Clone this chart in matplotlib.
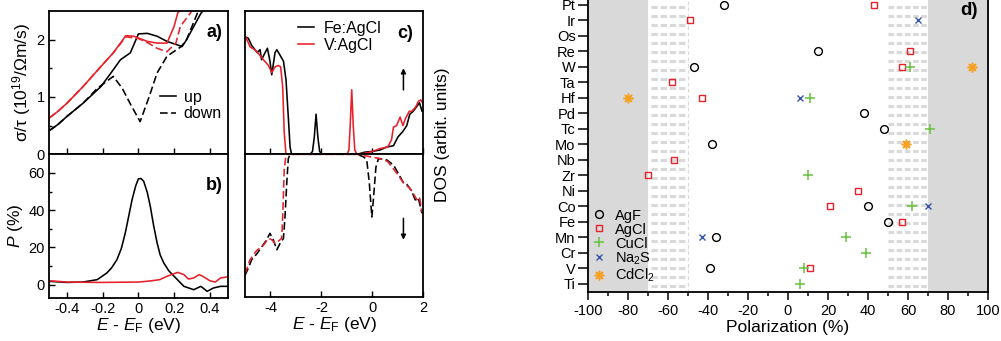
import matplotlib
matplotlib.use("Agg")
import matplotlib.pyplot as plt
import numpy as np
from matplotlib.lines import Line2D

plt.rcParams['font.family'] = ['Liberation Sans', 'DejaVu Sans']
plt.rcParams['font.size'] = 10.5
plt.rcParams['axes.unicode_minus'] = False
plt.rcParams['mathtext.fontset'] = 'custom'
plt.rcParams['mathtext.rm'] = 'Liberation Sans'
plt.rcParams['mathtext.it'] = 'Liberation Sans:italic'
plt.rcParams['mathtext.bf'] = 'Liberation Sans:bold'
plt.rcParams['lines.scale_dashes'] = False

BLACK = '#000000'
RED = '#e8202a'
GREEN = '#66c23f'
BLUE = '#3a55a8'
ORANGE = '#f5a020'
GRAY = '#d9d9d9'
LABEL_FS = 12.5

# ---------------- panel a: sigma/tau ----------------
a_fe_up_E = [-0.5, -0.45, -0.40, -0.31, -0.21, -0.16, -0.10, -0.045, -0.02, 0.0, 0.05, 0.105, 0.16, 0.245, 0.27, 0.35, 0.375]
a_fe_up_v = [0.41, 0.52, 0.66, 0.89, 1.18, 1.39, 1.65, 1.77, 1.95, 2.10, 2.11, 2.06, 1.97, 1.88, 2.0, 2.46, 2.55]
a_fe_dn_E = [-0.5, -0.45, -0.40, -0.31, -0.23, -0.14, -0.09, -0.04, 0.01, 0.06, 0.105, 0.16, 0.24, 0.27, 0.33, 0.36]
a_fe_dn_v = [0.41, 0.52, 0.66, 0.89, 1.15, 1.36, 1.15, 0.85, 0.57, 1.0, 1.42, 1.71, 1.88, 2.0, 2.46, 2.55]
a_v_up_E = [-0.5, -0.45, -0.40, -0.31, -0.21, -0.14, -0.07, -0.026, 0.05, 0.105, 0.16, 0.2, 0.22, 0.24]
a_v_up_v = [0.63, 0.75, 0.89, 1.18, 1.53, 1.77, 2.07, 2.06, 1.97, 1.94, 1.94, 2.23, 2.46, 2.55]
a_v_dn_E = [-0.5, -0.45, -0.40, -0.31, -0.21, -0.14, -0.07, 0.0, 0.05, 0.105, 0.16, 0.21, 0.235, 0.29, 0.31]
a_v_dn_v = [0.63, 0.75, 0.89, 1.18, 1.53, 1.77, 2.05, 2.02, 1.95, 1.85, 1.79, 1.94, 2.23, 2.46, 2.55]

# ---------------- panel b: polarization P ----------------
b_fe_E = [-0.5, -0.40, -0.31, -0.23, -0.176, -0.15, -0.12, -0.095, -0.073, -0.035, -0.015, 0.0, 0.015, 0.03, 0.05, 0.067, 0.085,
          0.105, 0.122, 0.142, 0.17, 0.2, 0.255, 0.31, 0.35, 0.385, 0.42, 0.46, 0.5]
b_fe_P = [1.8, 1.2, 1.4, 2.7, 6.3, 9.0, 13.4, 19.5, 27.8, 45.7, 53.0, 56.8, 57.0, 55.5, 49.5, 42.0, 32.0,
          22.4, 16.0, 11.7, 7.5, 4.5, -0.9, -2.7, -0.9, -3.6, -1.8, -0.9, -0.9]
b_v_E = [-0.5, -0.40, -0.22, 0.0, 0.067, 0.12, 0.16, 0.22, 0.255, 0.28, 0.31, 0.34, 0.36, 0.40, 0.43, 0.46, 0.5]
b_v_P = [2.1, 1.4, 1.2, 1.4, 2.0, 2.7, 4.5, 6.6, 5.4, 3.0, 3.6, 5.4, 4.5, 2.1, 1.4, 3.6, 4.2]

# ---------------- panel c: DOS ----------------
c_fe_up_E = [-5.0, -4.87, -4.74, -4.61, -4.52, -4.41, -4.35, -4.21, -4.12, -4.02, -3.95, -3.82, -3.75, -3.62, -3.49, -3.39, -3.30, -3.23, -3.17,
             -2.45, -2.35, -2.28, -2.21, -2.14, -2.07, -1.97, -0.6, -0.3, 0.0, 0.3, 0.55, 0.83, 1.0, 1.2, 1.35, 1.47, 1.6, 1.73, 1.85, 1.95, 2.0]
c_fe_up_v = [0.82, 0.81, 0.76, 0.73, 0.71, 0.73, 0.66, 0.71, 0.74, 0.65, 0.555, 0.71, 0.73, 0.69, 0.65, 0.52, 0.26, 0.05, 0.0,
             0.0, 0.02, 0.12, 0.28, 0.12, 0.02, 0.0, 0.0, 0.015, 0.02, 0.03, 0.05, 0.06, 0.12, 0.16, 0.20, 0.28, 0.30, 0.33, 0.36, 0.30, 0.31]
c_v_up_E = [-5.0, -4.8, -4.61, -4.41, -4.28, -4.08, -3.95, -3.82, -3.69, -3.6, -3.52, -3.46, -3.39,
            -1.0, -0.92, -0.87, -0.81, -0.75, -0.69, -0.6, -0.2, 0.0, 0.3, 0.6, 0.75, 0.83, 0.95, 1.09, 1.2, 1.3, 1.45, 1.55, 1.7, 1.81, 1.9, 2.0]
c_v_up_v = [0.83, 0.75, 0.73, 0.69, 0.66, 0.62, 0.57, 0.61, 0.62, 0.61, 0.47, 0.15, 0.0,
            0.0, 0.03, 0.2, 0.45, 0.2, 0.03, 0.0, 0.01, 0.02, 0.04, 0.05, 0.10, 0.19, 0.20, 0.26, 0.20, 0.25, 0.30, 0.30, 0.33, 0.37, 0.38, 0.35]
c_fe_dn_E = [-5.0, -4.87, -4.74, -4.54, -4.34, -4.15, -4.02, -3.89, -3.75, -3.62, -3.49, -3.43, -3.36, -3.30, -3.23,
             -0.61, -0.35, -0.22, -0.12, -0.02, 0.04, 0.14, 0.24, 0.57, 0.83, 1.09, 1.22, 1.35, 1.55, 1.68, 1.81, 1.94, 2.0]
c_fe_dn_v = [-0.85, -0.80, -0.74, -0.70, -0.65, -0.60, -0.555, -0.60, -0.67, -0.625, -0.59, -0.44, -0.20, -0.03, 0.0,
             0.0, -0.017, -0.04, -0.20, -0.44, -0.32, -0.09, -0.03, -0.04, -0.075, -0.157, -0.20, -0.21, -0.26, -0.32, -0.31, -0.41, -0.39]
c_v_dn_E = [-5.0, -4.8, -4.54, -4.28, -4.08, -3.95, -3.82, -3.69, -3.56, -3.52, -3.46, -3.39,
            -0.6, -0.3, 0.0, 0.3, 0.6, 0.96, 1.22, 1.48, 1.62, 1.75, 1.85, 1.94, 2.0]
c_v_dn_v = [-0.84, -0.74, -0.675, -0.64, -0.59, -0.60, -0.625, -0.61, -0.59, -0.44, -0.11, 0.0,
            0.0, -0.01, -0.02, -0.03, -0.05, -0.133, -0.20, -0.24, -0.28, -0.32, -0.30, -0.40, -0.39]

# ---------------- panel d: polarization by element ----------------
elements = ['Ti', 'V', 'Cr', 'Mn', 'Fe', 'Co', 'Ni', 'Zr', 'Nb', 'Mo', 'Tc', 'Pd', 'Hf', 'Ta', 'W', 'Re', 'Os', 'Ir', 'Pt']
agf_el = ['Pt', 'Re', 'W', 'Pd', 'Tc', 'Mo', 'Co', 'Fe', 'Mn', 'V']
agf_p = [-32, 15, -47, 38, 48, -38, 40, 50, -36, -39]
agcl_el = ['Pt', 'Ir', 'Re', 'W', 'Ta', 'Hf', 'Nb', 'Zr', 'Ni', 'Co', 'Fe', 'V']
agcl_p = [43, -49, 61, 57, -58, -43, -57, -70, 35, 21, 57, 11]
cucl_el = ['W', 'Hf', 'Tc', 'Zr', 'Co', 'Mn', 'Cr', 'V', 'Ti']
cucl_p = [61, 11, 71, 10, 62, 29, 39, 8, 6]
na2s_el = ['Ir', 'Hf', 'Mn', 'Co']
na2s_p = [65, 6, -43, 70]
cdcl2_el = ['W', 'Hf', 'Mo']
cdcl2_p = [92, -80, 59]

W, H = 1001, 341
fig = plt.figure(figsize=(W / 100, H / 100), dpi=100)


def box(x0, y0, x1, y1):
    return [x0 / W, 1 - y1 / H, (x1 - x0) / W, (y1 - y0) / H]


lw = 1.15
dash = (0, (5.5, 2.5))

# panel a
ax_a = fig.add_axes(box(49, 11, 227.7, 154.3))
ax_a.plot(a_fe_up_E, a_fe_up_v, color=BLACK, lw=lw)
ax_a.plot(a_fe_dn_E, a_fe_dn_v, color=BLACK, lw=lw, ls=dash)
ax_a.plot(a_v_up_E, a_v_up_v, color=RED, lw=lw)
ax_a.plot(a_v_dn_E, a_v_dn_v, color=RED, lw=lw, ls=dash)
ax_a.set_xlim(-0.5, 0.5)
ax_a.set_ylim(0, 2.5)
ax_a.set_xticks([-0.4, -0.2, 0, 0.2, 0.4])
ax_a.set_xticklabels([])
ax_a.set_yticks([0, 1, 2])
ax_a.set_yticks([0.5, 1.5], minor=True)
ax_a.set_ylabel(r'σ/τ (10$^{19}$/Ωm/s)', fontsize=LABEL_FS)
ax_a.yaxis.set_label_coords(-0.09, 0.5)
ax_a.legend([Line2D([], [], color=BLACK, lw=lw), Line2D([], [], color=BLACK, lw=lw, ls=dash)],
            ['up', 'down'], loc='upper left', bbox_to_anchor=(0.62, 0.45), frameon=False, fontsize=11.5,
            handlelength=1.0, handletextpad=0.5, labelspacing=0.1, borderpad=0, borderaxespad=0)
ax_a.text(0.97, 0.85, 'a)', transform=ax_a.transAxes, ha='right', va='center', fontsize=13, fontweight='bold')

# panel b
ax_b = fig.add_axes(box(49, 154.3, 227.7, 297.7))
ax_b.plot(b_fe_E, b_fe_P, color=BLACK, lw=lw)
ax_b.plot(b_v_E, b_v_P, color=RED, lw=lw)
ax_b.set_xlim(-0.5, 0.5)
ax_b.set_ylim(-7, 70)
ax_b.set_xticks([-0.4, -0.2, 0, 0.2, 0.4])
ax_b.set_xticklabels(['-0.4', '-0.2', '0', '0.2', '0.4'])
ax_b.set_yticks([0, 20, 40, 60])
ax_b.set_yticks([10, 30, 50], minor=True)
ax_b.set_ylabel(r'$P$ (%)', fontsize=LABEL_FS)
ax_b.yaxis.set_label_coords(-0.135, 0.5)
ax_b.set_xlabel(r'$E$ - $E_{\rm F}$ (eV)', fontsize=LABEL_FS, labelpad=0)
ax_b.text(0.97, 0.78, 'b)', transform=ax_b.transAxes, ha='right', va='center', fontsize=13, fontweight='bold')

# panel c
ax_c1 = fig.add_axes(box(245, 11, 423.3, 154.3))
ax_c1.plot(c_fe_up_E, c_fe_up_v, color=BLACK, lw=lw, label='Fe:AgCl')
ax_c1.plot(c_v_up_E, c_v_up_v, color=RED, lw=lw, label='V:AgCl')
ax_c1.set_xlim(-5, 2)
ax_c1.set_ylim(0, 1)
ax_c1.set_xticks([-4, -2, 0, 2])
ax_c1.set_xticklabels([])
ax_c1.set_yticks([])
ax_c1.legend(loc='upper left', bbox_to_anchor=(0.30, 0.93), frameon=False, fontsize=11.5, handlelength=1.0,
             handletextpad=0.6, labelspacing=0.1, borderpad=0, borderaxespad=0)
ax_c1.text(0.945, 0.84, 'c)', transform=ax_c1.transAxes, ha='right', va='center', fontsize=13, fontweight='bold')
ax_c1.annotate('', xy=(1.22, 0.62), xytext=(1.22, 0.43),
               arrowprops=dict(arrowstyle='-|>', color=BLACK, lw=1.1, mutation_scale=7))

ax_c2 = fig.add_axes(box(245, 154.3, 423.3, 296.7))
ax_c2.plot(c_fe_dn_E, c_fe_dn_v, color=BLACK, lw=lw, ls=dash)
ax_c2.plot(c_v_dn_E, c_v_dn_v, color=RED, lw=lw, ls=dash)
ax_c2.set_xlim(-5, 2)
ax_c2.set_ylim(-1, 0)
ax_c2.set_xticks([-4, -2, 0, 2])
ax_c2.set_xticklabels(['-4', '-2', '0', '2'])
ax_c2.set_yticks([])
ax_c2.set_xlabel(r'$E$ - $E_{\rm F}$ (eV)', fontsize=LABEL_FS, labelpad=0)
ax_c2.annotate('', xy=(1.22, -0.62), xytext=(1.22, -0.43),
               arrowprops=dict(arrowstyle='-|>', color=BLACK, lw=1.1, mutation_scale=7))

fig.text(443 / W, 1 - 135 / H, 'DOS (arbit. units)', rotation=90, ha='center', va='center', fontsize=LABEL_FS)

for ax in (ax_a, ax_b, ax_c1, ax_c2):
    ax.tick_params(which='both', direction='in', top=False, right=False, width=1.0)
    ax.tick_params(which='major', length=4.5, pad=3)
    ax.tick_params(which='minor', length=2.5)
    for s in ax.spines.values():
        s.set_linewidth(1.3)

# panel d
ax_d = fig.add_axes(box(588, -2.75, 988, 291.7))
idx = {e: i for i, e in enumerate(elements)}
ax_d.set_xlim(-100, 100)
ax_d.set_ylim(-0.5, len(elements) - 0.5)
ax_d.axvspan(-100, -70, color=GRAY, lw=0, zorder=0)
ax_d.axvspan(70, 100, color=GRAY, lw=0, zorder=0)
ys = np.arange(0.019, 1.0, 9 / 294.45)
tr = ax_d.get_xaxis_transform()
ax_d.hlines(ys, -68.6, -50, transform=tr, colors=GRAY, lw=2.2, linestyles=[(0, (4.6, 2.0))], zorder=0)
ax_d.hlines(ys, 50.2, 70, transform=tr, colors=GRAY, lw=2.2, linestyles=[(0, (4.0, 1.9))], zorder=0)
ax_d.axvline(-50, color=GRAY, lw=0.8, ls=(0, (2.5, 2.0)), zorder=0)

ax_d.plot(agf_p, [idx[e] for e in agf_el], ls='none', marker='o', ms=5.6, mfc='none', mec=BLACK, mew=1.0, label='AgF')
ax_d.plot(agcl_p, [idx[e] for e in agcl_el], ls='none', marker='s', ms=5.0, mfc='none', mec=RED, mew=1.0, label='AgCl')
ax_d.plot(cucl_p, [idx[e] for e in cucl_el], ls='none', marker='+', ms=7.0, mec=GREEN, mew=1.1, label='CuCl')
ax_d.plot(na2s_p, [idx[e] for e in na2s_el], ls='none', marker='x', ms=5.0, mec=BLUE, mew=1.0, label='Na$_2$S')
ax_d.plot(cdcl2_p, [idx[e] for e in cdcl2_el], ls='none', marker=(8, 2, 0), ms=7.0, mec=ORANGE, mew=1.1, label='CdCl$_2$')

ax_d.set_yticks(range(len(elements)))
ax_d.set_yticklabels(elements)
ax_d.set_xticks(np.arange(-100, 101, 20))
ax_d.set_xticks(np.arange(-90, 100, 20), minor=True)
ax_d.set_xticklabels([str(v) for v in range(-100, 101, 20)])
ax_d.set_xlabel('Polarization (%)', fontsize=LABEL_FS, labelpad=1)
ax_d.tick_params(axis='y', which='major', direction='out', length=7, width=1.1, pad=2)
ax_d.tick_params(axis='x', which='major', direction='out', length=6, width=1.1, pad=3)
ax_d.tick_params(axis='x', which='minor', direction='out', length=3, width=1.1)
ax_d.spines['top'].set_visible(False)
for s in ('left', 'right', 'bottom'):
    ax_d.spines[s].set_linewidth(1.3)
ax_d.legend(loc='lower left', bbox_to_anchor=(0.01, 0.025), frameon=False, handlelength=1.0,
            handletextpad=0.6, labelspacing=0.0, borderpad=0, borderaxespad=0)
ax_d.text(0.975, 0.955, 'd)', transform=ax_d.transAxes, ha='right', va='center', fontsize=13.5, fontweight='bold')

fig.savefig('out.png', dpi=100)
